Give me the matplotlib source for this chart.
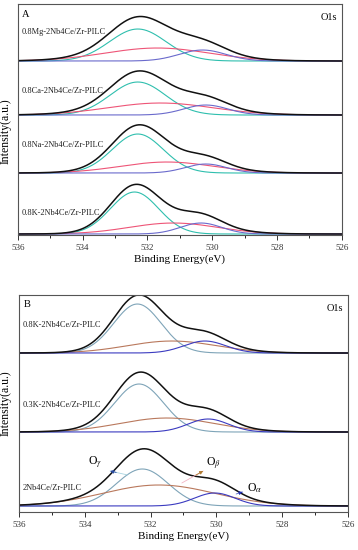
import numpy as np
import matplotlib
matplotlib.use("Agg")
import matplotlib.pyplot as plt
from matplotlib.ticker import MultipleLocator

plt.rcParams["font.family"] = ["Liberation Serif", "DejaVu Serif"]
plt.rcParams["mathtext.fontset"] = "stix"

# ---------------------------------------------------------
# data: fitted O1s components
# (centre eV, height a.u., FWHM eV) per sample
# order of components: O_gamma (532.x), O_beta (531.x), O_alpha (530.x)
# ---------------------------------------------------------
samples_a = ["0.8K-2Nb4Ce/Zr-PILC", "0.8Na-2Nb4Ce/Zr-PILC",
             "0.8Ca-2Nb4Ce/Zr-PILC", "0.8Mg-2Nb4Ce/Zr-PILC"]
centre_a = [[532.40, 531.20, 530.35],
            [532.30, 531.40, 530.20],
            [532.30, 531.60, 530.20],
            [532.30, 531.70, 530.30]]
height_a = [[42, 11, 11],
            [39, 11, 9],
            [33, 12, 10],
            [32, 13, 11]]
fwhm_a = [[1.75, 3.2, 1.5],
          [1.85, 3.4, 1.5],
          [2.00, 3.8, 1.6],
          [2.05, 3.8, 1.7]]

samples_b = ["2Nb4Ce/Zr-PILC", "0.3K-2Nb4Ce/Zr-PILC", "0.8K-2Nb4Ce/Zr-PILC"]
centre_b = [[532.25, 531.75, 530.05],
            [532.35, 531.50, 530.25],
            [532.40, 531.35, 530.35]]
height_b = [[37, 21, 13],
            [48, 14, 13],
            [49, 12, 12]]
fwhm_b = [[1.85, 4.0, 1.45],
          [1.75, 3.4, 1.45],
          [1.70, 3.2, 1.50]]

energy = np.linspace(536, 526, 800)


def component(c, h, w):
    s = w / 2.3548
    return h * np.exp(-0.5 * ((energy - c) / s) ** 2)


def draw_panel(ax, samples, centres, heights, fwhms, offsets, label_dy,
               colours, ylim, letter):
    for i, name in enumerate(samples):
        off = offsets[i]
        comps = [component(c, h, w) for c, h, w in
                 zip(centres[i], heights[i], fwhms[i])]
        for comp, col in zip(comps, colours):
            ax.plot(energy, comp + off, color=col, lw=0.8)
        ax.plot(energy, np.sum(comps, axis=0) + off, color="#111111", lw=1.1)
        ax.text(535.88, off + label_dy[i], name, fontsize=6,
                ha="left", va="center", color="#222222")
    ax.set_xlim(536, 526)
    ax.set_ylim(*ylim)
    ax.set_yticks([])
    ax.xaxis.set_major_locator(MultipleLocator(2))
    ax.xaxis.set_minor_locator(MultipleLocator(1))
    ax.tick_params(axis="x", which="major", direction="out", length=3.5,
                   width=0.7, labelsize=6.5, pad=3, colors="#333333")
    ax.tick_params(axis="x", which="minor", direction="out", length=2,
                   width=0.6)
    for sp in ax.spines.values():
        sp.set_linewidth(0.8)
        sp.set_color("#555555")
    ax.set_xlabel("Binding Energy(eV)", fontsize=8, labelpad=2)
    ax.text(0.013, 0.975, letter, transform=ax.transAxes, fontsize=7.5,
            ha="left", va="top")
    ax.text(0.985, 0.96, "O1s", transform=ax.transAxes, fontsize=7.5,
            ha="right", va="top")


fig = plt.figure(figsize=(3.58, 5.5), dpi=100)

ax_a = fig.add_axes([0.050, 0.5727, 0.905, 0.42])
draw_panel(ax_a, samples_a, centre_a, height_a, fwhm_a,
           offsets=[1, 62, 120, 174], label_dy=[21, 28, 24, 29],
           colours=["#2fbfae", "#ee5577", "#6a6acc"], ylim=(0, 231),
           letter="A")
ax_a.set_ylabel("Intensity(a.u.)", fontsize=8.5, labelpad=1)
ax_a.yaxis.set_label_coords(-0.02, 0.45)

ax_b = fig.add_axes([0.053, 0.0691, 0.919, 0.3945])
draw_panel(ax_b, samples_b, centre_b, height_b, fwhm_b,
           offsets=[6, 80, 159], label_dy=[18, 27, 28],
           colours=["#7ea4b8", "#b9785c", "#3b3bc0"], ylim=(0, 217),
           letter="B")
ax_b.set_ylabel("Intensity(a.u.)", fontsize=8.5, labelpad=1)
ax_b.yaxis.set_label_coords(-0.022, 0.5)

# component labels on the bottom spectrum of panel B:
# text position, arrow head, arrow tail, line colour, head colour
o_labels = [r"O$_\gamma$", r"O$_\beta$", r"O$_\alpha$"]
o_text = [(533.7, 49), (530.1, 48), (528.85, 24)]
o_head = [(533.23, 41), (530.4, 41), (529.2, 20)]
o_tail = [(532.7, 37), (531.05, 29), (529.4, 18)]
o_line_col = ["#a8d4e0", "#f2b4c4", "#5566cc"]
o_head_col = ["#2a4aa0", "#b07a30", "#1f2fb0"]

for lab, t, h, tl, lc, hc in zip(o_labels, o_text, o_head, o_tail,
                                 o_line_col, o_head_col):
    ax_b.text(t[0], t[1], lab, fontsize=8.5, ha="center", va="center")
    ax_b.annotate("", xy=h, xytext=tl,
                  arrowprops=dict(arrowstyle="-", color=lc, lw=0.6,
                                  shrinkA=0, shrinkB=0))
    ax_b.annotate("", xy=h, xytext=(h[0] + (tl[0] - h[0]) * 0.35,
                                    h[1] + (tl[1] - h[1]) * 0.35),
                  arrowprops=dict(arrowstyle="-|>", color=hc, lw=0.6,
                                  mutation_scale=5, shrinkA=0, shrinkB=0))

fig.savefig("out.png", dpi=100)
